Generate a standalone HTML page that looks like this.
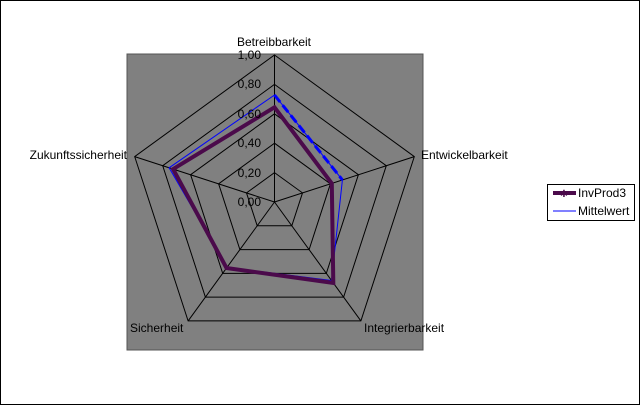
<!DOCTYPE html>
<html><head><meta charset="utf-8"><style>
html,body{margin:0;padding:0;background:#fff}
svg{display:block}
text{font-family:"Liberation Sans",Arial,sans-serif;font-size:12px;fill:#000}
</style></head><body>
<svg width="640" height="405" viewBox="0 0 640 405" xmlns="http://www.w3.org/2000/svg">
<rect x="0.5" y="0.5" width="639" height="404" fill="#fff" stroke="#000" stroke-width="1"/>
<rect x="127" y="54" width="296" height="296" fill="#808080" stroke="#555" stroke-width="1"/>
<g fill="none" stroke="#000" stroke-width="1">
<polygon points="274.5,55 414.3,156.6 360.9,320.9 188.1,320.9 134.7,156.6"/>
<polygon points="274.5,84.4 386.3,165.7 343.6,297.1 205.4,297.1 162.7,165.7"/>
<polygon points="274.5,113.8 358.4,174.7 326.3,273.4 222.7,273.4 190.6,174.7"/>
<polygon points="274.5,143.2 330.4,183.8 309.1,249.6 239.9,249.6 218.6,183.8"/>
<polygon points="274.5,172.6 302.5,192.9 291.8,225.8 257.2,225.8 246.5,192.9"/>
<line x1="274.5" y1="202" x2="274.5" y2="55"/>
<line x1="274.5" y1="202" x2="414.3" y2="156.6"/>
<line x1="274.5" y1="202" x2="360.9" y2="320.9"/>
<line x1="274.5" y1="202" x2="188.1" y2="320.9"/>
<line x1="274.5" y1="202" x2="134.7" y2="156.6"/>
</g>
<polygon points="274.5,95 342.4,179.9 331.5,280.5 227,267.4 169.1,167.8" fill="none" stroke="#0000ff" stroke-width="1"/>
<polygon points="274.5,107.3 331.8,183.4 333.3,282.9 226.5,268 173.1,169.1" fill="none" stroke="#4b0a4b" stroke-width="4" stroke-linejoin="miter"/>
<line x1="274.5" y1="95" x2="342.4" y2="179.9" stroke="#0000ff" stroke-width="3" stroke-dasharray="9,4"/>
<text x="274" y="46" text-anchor="middle">Betreibbarkeit</text>
<g text-anchor="end">
<text x="261" y="59">1,00</text>
<text x="261" y="88">0,80</text>
<text x="261" y="118">0,60</text>
<text x="261" y="147">0,40</text>
<text x="261" y="177">0,20</text>
<text x="261" y="206">0,00</text>
<text x="127" y="159">Zukunftssicherheit</text>
</g>
<text x="421" y="159">Entwickelbarkeit</text>
<text x="130" y="332">Sicherheit</text>
<text x="364" y="332">Integrierbarkeit</text>
<rect x="547.5" y="184.5" width="87" height="36" fill="#fff" stroke="#000" stroke-width="1"/>
<line x1="553" y1="193" x2="576" y2="193" stroke="#4b0a4b" stroke-width="4"/>
<text x="564" y="197" text-anchor="middle" style="font-size:10px;fill:#4b0a4b">✱</text>
<text x="578" y="197">InvProd3</text>
<line x1="553" y1="211" x2="576" y2="211" stroke="#0000ff" stroke-width="1"/>
<text x="578" y="215">Mittelwert</text>
</svg>
</body></html>
